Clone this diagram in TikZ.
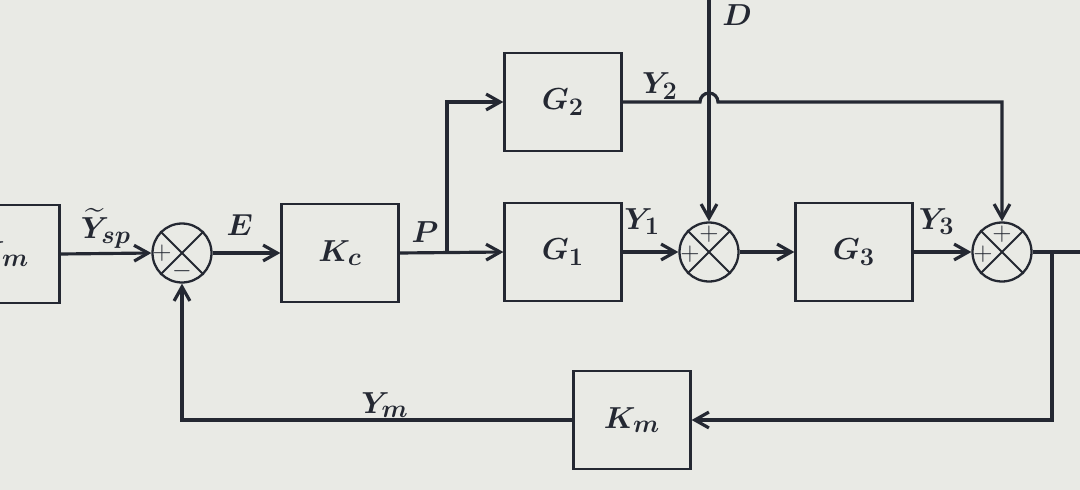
\documentclass[tikz,border=0pt]{standalone}
\usepackage{amsmath, amssymb}
\usepackage{xcolor}
\usepackage{tikz}
\usetikzlibrary{arrows.meta, positioning, calc}
\definecolor{paper}{RGB}{233, 234, 229}
\definecolor{ink}{RGB}{36, 40, 50}

\begin{document}
\begin{tikzpicture}[x=0.02cm, y=-0.02cm, >={Straight Barb[length=8pt, width=9pt]},
    block/.style={draw=ink, line width=1.3pt, minimum width=2.34cm, minimum height=1.96cm, inner sep=0pt, font=\fontsize{19}{22}\selectfont\boldmath, text=ink},
    sumnode/.style={draw=ink, circle, line width=1.3pt, minimum size=1.18cm, inner sep=0pt},
    sig/.style={font=\fontsize{15}{17}\selectfont\bfseries, text=ink, inner sep=0pt},
    lbl/.style={font=\fontsize{19}{22}\selectfont\boldmath, text=ink, inner sep=0pt},
    wire/.style={draw=ink, line width=1.8pt}]

    % Paper and frame
    \useasboundingbox (0, 0) rectangle (1080, 490);
    \clip (0, 0) rectangle (1080, 490);
    \fill[paper] (0, 0) rectangle (1080, 490);

    % Blocks
    \node[block] (Kmin) at (1, 254) {$K_m$};
    \node[block] (Kc) at (340, 253) {$K_c$};
    \node[block] (G2) at (563, 102) {$G_2$};
    \node[block] (G1) at (563, 252) {$G_1$};
    \node[block] (G3) at (854, 252) {$G_3$};
    \node[block] (Km) at (632, 420) {$K_m$};

    % Summing junctions
    \node[sumnode] (s1) at (182, 253) {};
    \node[sumnode] (s2) at (709, 252) {};
    \node[sumnode] (s3) at (1002, 252) {};
    \foreach \s in {s1, s2, s3} {
        \draw[ink, line width=1.2pt] (\s.north west) -- (\s.south east) (\s.north east) -- (\s.south west);
    }
    \node[sig] at ($(s1)+(-20, 0)$) {$+$};
    \node[sig] at ($(s1)+(0, 18)$) {$-$};
    \node[sig] at ($(s2)+(0, -18)$) {$+$};
    \node[sig] at ($(s2)+(-19, 2)$) {$+$};
    \node[sig] at ($(s3)+(0, -18)$) {$+$};
    \node[sig] at ($(s3)+(-19, 2)$) {$+$};

    % Free ends
    \coordinate (pb) at (447, 252);
    \coordinate (dtop) at (709, 0);
    \coordinate (hop) at (709, 102);
    \coordinate (y2c) at (1002, 102);
    \coordinate (fb) at (1052, 252);
    \coordinate (out) at (1080, 252);

    % Forward path
    \draw[wire, ->] (Kmin.east) -- (s1.west);
    \node[lbl] at (106, 228) {$\widetilde{Y}_{sp}$};
    \draw[wire, ->] (s1.east) -- (Kc.west) node[lbl, pos=0.4, above=9pt] {$E$};
    \draw[wire, ->] (Kc.east) -- (G1.west);
    \node[lbl] at (425, 232) {$P$};
    \draw[wire, ->] (pb) |- (G2.west);
    \draw[wire, ->] (G1.east) -- (s2.west) node[lbl, pos=0.35, above=9pt] {$Y_1$};
    \draw[wire, ->] (s2.east) -- (G3.west);
    \draw[wire, ->] (G3.east) -- (s3.west) node[lbl, pos=0.4, above=9pt] {$Y_3$};
    \draw[wire] (s3.east) -- (out);

    % Disturbance and Y2 path
    \draw[wire, ->] (dtop) -- (s2.north);
    \node[lbl] at (737, 15) {$D$};
    \draw[wire, ->] (G2.east) -- ($(hop)+(-9, 0)$) arc[start angle=180, end angle=360, radius=9] -- (y2c) -- (s3.north);
    \node[lbl] at (660, 86) {$Y_2$};

    % Feedback path
    \draw[wire, ->] (fb) |- (Km.east);
    \draw[wire, ->] (Km.west) -| (s1.south);
    \node[lbl] at (385, 405) {$Y_m$};
\end{tikzpicture}
\end{document}
